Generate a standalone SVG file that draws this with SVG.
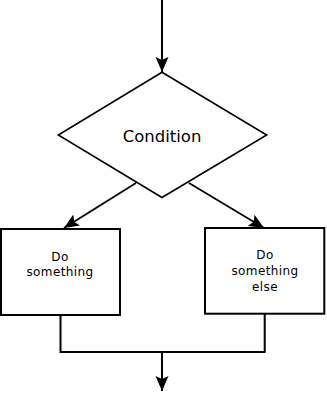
<svg xmlns="http://www.w3.org/2000/svg" width="327" height="395" viewBox="0 0 327 395">
  <style>
    .shape { fill: #ffffff; stroke: #000000; }
    .edge { fill: none; stroke: #000000; stroke-width: 2; }
    .label { font-family: "DejaVu Sans", "Liberation Sans", sans-serif; fill: #000000; text-anchor: middle; }
    .big { font-size: 16.5px; }
    .small { font-size: 12px; letter-spacing: 0.4px; }
  </style>
  <defs>
    <marker id="arrow" markerUnits="userSpaceOnUse" markerWidth="16" markerHeight="14" refX="15" refY="7" orient="auto">
      <path d="M15,7 L0,0.5 L3,7 L0,13.5 Z" fill="#000000"/>
    </marker>
  </defs>
  <rect width="327" height="395" fill="#ffffff"/>

  <g id="connectors">
    <line class="edge" x1="162" y1="0" x2="162" y2="72" marker-end="url(#arrow)"/>
    <line class="edge" x1="136" y1="183" x2="64" y2="228" marker-end="url(#arrow)" style="stroke-width:1.8"/>
    <line class="edge" x1="189" y1="183" x2="264" y2="228" marker-end="url(#arrow)" style="stroke-width:1.8"/>
    <polyline class="edge" points="60.5,315 60.5,352 264.7,352 264.7,314"/>
    <line class="edge" x1="162" y1="352" x2="162" y2="391" marker-end="url(#arrow)"/>
  </g>

  <g id="condition">
    <polygon class="shape" stroke-width="1.6" points="162,72.3 266.7,135 162,197.5 58.3,135"/>
    <text class="label big" x="162" y="141.5">Condition</text>
  </g>

  <g id="do-something">
    <rect class="shape" stroke-width="2" x="1" y="229" width="119" height="86"/>
    <text class="label small" x="60" y="260.5">Do</text>
    <text class="label small" x="60" y="276">something</text>
  </g>

  <g id="do-something-else">
    <rect class="shape" stroke-width="2" x="205" y="228" width="119.3" height="85.7"/>
    <text class="label small" x="265" y="259">Do</text>
    <text class="label small" x="265" y="275">something</text>
    <text class="label small" x="265" y="290.5">else</text>
  </g>
</svg>
